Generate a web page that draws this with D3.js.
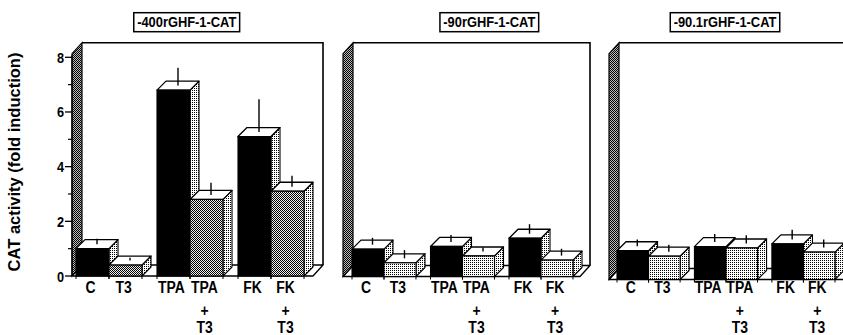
<!DOCTYPE html>
<html>
<head>
<meta charset="utf-8">
<script src="https://cdnjs.cloudflare.com/ajax/libs/d3/7.8.5/d3.min.js"></script>
<style>
  html, body { margin: 0; padding: 0; background: #fff; }
  svg { display: block; }
  text { font-family: "Liberation Sans", Arial, Helvetica, sans-serif; fill: #000; }
</style>
</head>
<body>
<svg id="chart" width="843" height="335"></svg>
<script>
// Treatments shown under each bar (multi-line labels)
const categories = ["C", "T3", "TPA", "TPA+T3", "FK", "FK+T3"];
const groups = ["C", "TPA", "FK"];
const constructs = ["-400rGHF-1-CAT", "-90rGHF-1-CAT", "-90.1rGHF-1-CAT"];

// Mean fold induction and error (upper bar) per construct
const means400 = [1.0, 0.4, 6.8, 2.8, 5.1, 3.1];
const errs400  = [0.2, 0.1, 0.65, 0.45, 1.2, 0.4];
const means90  = [1.0, 0.5, 1.1, 0.75, 1.4, 0.6];
const errs90   = [0.25, 0.3, 0.25, 0.15, 0.35, 0.25];
const means901 = [1.05, 0.85, 1.2, 1.15, 1.3, 1.0];
const errs901  = [0.25, 0.25, 0.3, 0.3, 0.35, 0.3];

const yTicks = [0, 2, 4, 6, 8];
const yMinorTicks = [1, 3, 5, 7];
const yLabel = "CAT activity (fold induction)";

const svg = d3.select("#chart");

// Dotted fills (screen-like halftones)
const defs = svg.append("defs");
function halftone(id, bg, cells) {
  const p = defs.append("pattern").attr("id", id)
    .attr("patternUnits", "userSpaceOnUse").attr("width", 2).attr("height", 2);
  p.append("rect").attr("width", 2).attr("height", 2).attr("fill", bg);
  cells.forEach(([cx, cy]) => p.append("rect").attr("x", cx).attr("y", cy)
    .attr("width", 1).attr("height", 1).attr("fill", "#000").attr("shape-rendering", "crispEdges"));
}
halftone("tone-mid", "#eee", [[0, 0], [1, 1]]);
halftone("tone-wall", "#bbb", [[0, 0], [1, 1]]);
halftone("tone-light", "#fff", [[0, 0]]);

// Text in a condensed bold face: scale the glyphs horizontally
function label(parent, x, y, txt, size, weight, sx, anchor) {
  return parent.append("g").attr("transform", `translate(${x},${y}) scale(${sx},1)`)
    .append("text").attr("text-anchor", anchor || "middle")
    .attr("font-size", size).attr("font-weight", weight).text(txt);
}

// Panel frames (front-left / front-right of the floor, bar span, floor baseline)
const panels = [
  { name: constructs[0], means: means400, errs: errs400, frontLeft: 72, frontRight: 313, barsLeft: 76, barsRight: 304,
    base: 276, top8: 57.3, titleX: 186.7, treatFill: "url(#tone-mid)", axis: true },
  { name: constructs[1], means: means90, errs: errs90, frontLeft: 343, frontRight: 580, barsLeft: 352, barsRight: 573,
    base: 276.5, top8: 57.8, titleX: 489.3, treatFill: "url(#tone-light)", axis: false },
  { name: constructs[2], means: means901, errs: errs901, frontLeft: 609, frontRight: 845, barsLeft: 617, barsRight: 835,
    base: 279.5, top8: 60.3, titleX: 725, treatFill: "url(#tone-light)", axis: false }
];

const wallDx = 10, wallDy = 11;   // depth of the box
const barDx = 9, barDy = 9;       // depth of each bar
const wallTop = 42.7;

const poly = pts => "M" + pts.map(p => p.join(",")).join("L") + "Z";

panels.forEach(P => {
  const g = svg.append("g");
  const y = d3.scaleLinear().domain([0, 8]).range([P.base, P.top8]);

  // group bands and bar bands within a group
  const xg = d3.scaleBand().domain(groups).range([P.barsLeft, P.barsRight]).paddingInner(0.185).paddingOuter(0);
  const xb = d3.scaleBand().domain([0, 1]).range([0, xg.bandwidth()]);
  const barX = i => xg(groups[Math.floor(i / 2)]) + xb(i % 2);
  const bw = xb.bandwidth();

  const x0 = P.frontLeft, x1 = P.frontRight, b = P.base;

  // back wall
  g.append("path").attr("d", poly([[x0 + wallDx, wallTop], [x1 + wallDx, wallTop], [x1 + wallDx, b - wallDy], [x0 + wallDx, b - wallDy]]))
    .attr("fill", "#fff").attr("stroke", "none");
  g.append("path").attr("d", `M${x0 + wallDx},${wallTop}L${x1 + wallDx},${wallTop}L${x1 + wallDx},${b - wallDy}`)
    .attr("fill", "none").attr("stroke", "#000").attr("stroke-width", 1.6);

  // floor
  g.append("path").attr("d", poly([[x0, b], [x1, b], [x1 + wallDx, b - wallDy], [x0 + wallDx, b - wallDy]]))
    .attr("fill", "#fff").attr("stroke", "#000").attr("stroke-width", 1.3).attr("stroke-linejoin", "round");

  // left wall
  g.append("path").attr("d", poly([[x0, b], [x0, wallTop + wallDy], [x0 + wallDx, wallTop], [x0 + wallDx, b - wallDy]]))
    .attr("fill", "url(#tone-wall)").attr("stroke", "#000").attr("stroke-width", 1.2);

  // small category ticks below the floor edge
  const edges = [];
  P.means.forEach((v, i) => { edges.push(barX(i)); edges.push(barX(i) + bw); });
  g.selectAll(".xt").data(edges).join("line")
    .attr("x1", d => d).attr("x2", d => d).attr("y1", b).attr("y2", b + 3)
    .attr("stroke", "#000").attr("stroke-width", 1);

  // bars, drawn left to right so neighbours hide the hidden faces
  P.means.forEach((v, i) => {
    const xl = barX(i), xr = xl + bw, yt = y(v);
    const bar = g.append("g");
    bar.append("path").attr("d", poly([[xr, b], [xr, yt], [xr + barDx, yt - barDy], [xr + barDx, b - barDy]]))
      .attr("fill", "url(#tone-light)").attr("stroke", "#000").attr("stroke-width", 1.1).attr("stroke-linejoin", "round");
    bar.append("path").attr("d", poly([[xl, yt], [xr, yt], [xr + barDx, yt - barDy], [xl + barDx, yt - barDy]]))
      .attr("fill", "#fff").attr("stroke", "#000").attr("stroke-width", 1.3).attr("stroke-linejoin", "round");
    bar.append("rect").attr("x", xl).attr("y", yt).attr("width", bw).attr("height", b - yt)
      .attr("fill", i % 2 === 0 ? "#000" : P.treatFill).attr("stroke", "#000").attr("stroke-width", 1.1);
    // upper error bar from the centre of the top face
    const ex = xl + bw / 2 + barDx / 2;
    bar.append("line").attr("x1", ex).attr("x2", ex)
      .attr("y1", yt - barDy / 2).attr("y2", y(v + P.errs[i]) - barDy / 2)
      .attr("stroke", "#000").attr("stroke-width", 1.4);
  });

  // y axis on the first panel
  if (P.axis) {
    g.append("line").attr("x1", x0).attr("x2", x0).attr("y1", b).attr("y2", y(8) - 2)
      .attr("stroke", "#000").attr("stroke-width", 1.3);
    g.selectAll(".maj").data(yTicks).join("line")
      .attr("x1", x0 - 7).attr("x2", x0).attr("y1", d => y(d)).attr("y2", d => y(d))
      .attr("stroke", "#000").attr("stroke-width", 1.3);
    g.selectAll(".min").data(yMinorTicks).join("line")
      .attr("x1", x0 - 4).attr("x2", x0).attr("y1", d => y(d)).attr("y2", d => y(d))
      .attr("stroke", "#000").attr("stroke-width", 1.2);
    yTicks.forEach(d => label(g, x0 - 8, y(d) + 5.5, d, 15, "bold", 0.85, "end"));
  }

  // category labels
  categories.forEach((c, i) => {
    const cx = barX(i) + bw / 2 - 2;
    const lines = c.includes("+") ? [c.split("+")[0], "+", c.split("+")[1]] : [c];
    const baselines = [293, 316, 333];
    lines.forEach((t, k) => label(g, cx, baselines[k], t, 17, "bold", 0.82));
  });

  // boxed construct title
  const tt = label(g, P.titleX, 27, P.name, 14, "bold", 0.92);
  const bb = tt.node().getBBox();
  const w = bb.width * 0.92;
  g.insert("rect", "g").attr("x", P.titleX - w / 2 - 3).attr("y", 12.7).attr("width", w + 6).attr("height", 19)
    .attr("fill", "#fff").attr("stroke", "#000").attr("stroke-width", 1.5);
});

// y axis title
svg.append("text").attr("transform", "translate(20,162) rotate(-90)")
  .attr("text-anchor", "middle").attr("font-size", 16.5).attr("font-weight", "bold").text(yLabel);
</script>
</body>
</html>
